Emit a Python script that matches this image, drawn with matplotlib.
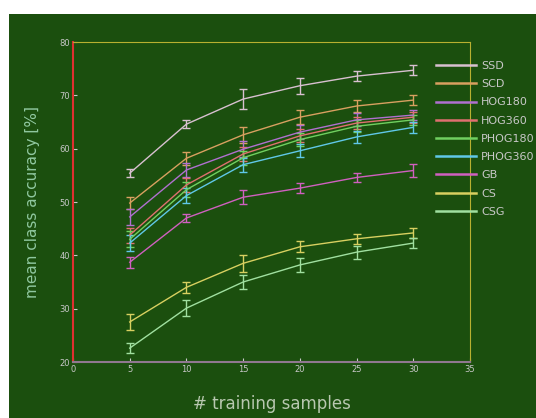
import matplotlib
matplotlib.use("Agg")
import matplotlib.pyplot as plt
from matplotlib.patches import Rectangle
from matplotlib.lines import Line2D

x_samples = [5, 10, 15, 20, 25, 30]
labels = ["SSD", "SCD", "HOG180", "HOG360", "PHOG180", "PHOG360", "GB", "CS", "CSG"]
series = [
    [55.4, 64.6, 69.3, 71.8, 73.6, 74.7],
    [49.8, 58.2, 62.6, 65.9, 68.0, 69.1],
    [47.2, 56.0, 59.9, 63.1, 65.4, 66.3],
    [43.8, 53.2, 59.0, 62.4, 64.8, 65.9],
    [43.0, 52.3, 58.3, 61.7, 64.2, 65.4],
    [42.3, 51.2, 57.0, 59.6, 62.2, 64.0],
    [38.7, 47.0, 50.9, 52.6, 54.6, 55.9],
    [27.5, 34.0, 38.5, 41.6, 43.1, 44.2],
    [22.6, 30.1, 35.0, 38.2, 40.6, 42.3],
]
errors = [
    [0.8, 0.8, 1.8, 1.5, 1.0, 0.9],
    [1.2, 1.2, 1.5, 1.3, 1.2, 1.0],
    [1.5, 1.4, 1.5, 1.3, 1.2, 1.0],
    [1.4, 1.3, 1.3, 1.2, 1.1, 1.0],
    [1.5, 1.4, 1.3, 1.2, 1.1, 1.0],
    [1.5, 1.4, 1.3, 1.2, 1.1, 1.0],
    [1.0, 0.8, 1.3, 1.0, 0.9, 1.2],
    [1.5, 1.0, 1.6, 1.0, 0.9, 1.0],
    [1.0, 1.5, 1.4, 1.3, 1.2, 1.0],
]
colors = ["#d8c0d0", "#d8a060", "#b070d0", "#e07070", "#70d060",
          "#60c8e8", "#d060c0", "#d8d060", "#a0e0a0"]
xticks = [0, 5, 10, 15, 20, 25, 30, 35]
yticks = [20, 30, 40, 50, 60, 70, 80]

green = "#1b4f0e"
fig = plt.figure(figsize=(5.36, 4.18), dpi=100, facecolor="white")
fig.patches.append(Rectangle((9/536, 0), 1, 1 - 14/418, transform=fig.transFigure,
                             facecolor=green, edgecolor="none", zorder=-10))
ax = fig.add_axes([73/536, 1 - 362/418, (470-73)/536, (362-42)/418])
ax.set_facecolor(green)

handles = []
for ys, es, c, lab in zip(series, errors, colors, labels):
    ax.errorbar(x_samples, ys, yerr=es, color=c, lw=1.0, elinewidth=1.0,
                capsize=3, capthick=1.0)
    handles.append(Line2D([], [], color=c, lw=1.8, label=lab))

ax.set_xlim(0, 35)
ax.set_ylim(20, 80)
ax.set_xticks(xticks)
ax.set_yticks(yticks)
ax.tick_params(direction="in", length=3, labelsize=6, colors="#c8c8c8", pad=2)
ax.spines["left"].set_color("#e03030")
ax.spines["left"].set_linewidth(1.5)
ax.spines["bottom"].set_color("#907890")
ax.spines["bottom"].set_linewidth(1.5)
ax.spines["top"].set_color("#b8b030")
ax.spines["right"].set_color("#b8b030")

ax.set_xlabel("# training samples", fontsize=12, color="#b8c8b0", labelpad=15)
ax.set_ylabel("mean class accuracy [%]", fontsize=11, color="#90c8a0", labelpad=14)

leg = ax.legend(handles=handles, loc="upper left", bbox_to_anchor=(436/536, 1 - 61/418),
                bbox_transform=fig.transFigure, frameon=False, fontsize=8,
                handlelength=3.6, labelspacing=0.74, handletextpad=0.45,
                borderaxespad=0, borderpad=0)
for t in leg.get_texts():
    t.set_color("#c8c8c8")
leg.set_clip_on(False)

fig.savefig("out.png", dpi=100, facecolor=fig.get_facecolor())
